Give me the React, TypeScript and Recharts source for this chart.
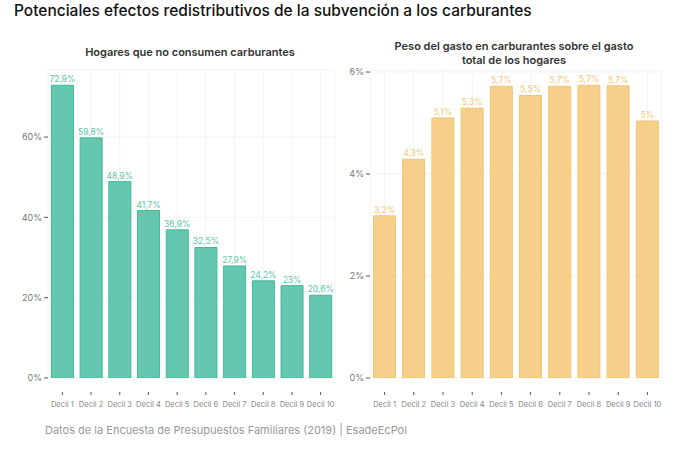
import React from 'react';
import { BarChart, Bar, XAxis, YAxis, CartesianGrid, LabelList } from 'recharts';

// Datos
const deciles = ['Decil 1', 'Decil 2', 'Decil 3', 'Decil 4', 'Decil 5', 'Decil 6', 'Decil 7', 'Decil 8', 'Decil 9', 'Decil 10'];
const sinCarburantes = [72.9, 59.8, 48.9, 41.7, 36.9, 32.5, 27.9, 24.2, 23, 20.6];
const pesoGasto = [3.18, 4.29, 5.1, 5.29, 5.72, 5.54, 5.72, 5.74, 5.73, 5.04];
const ticksIzq = [0, 20, 40, 60];
const ticksDer = [0, 2, 4, 6];

const dataIzq = deciles.map((d, i) => ({ decil: d, valor: sinCarburantes[i] }));
const dataDer = deciles.map((d, i) => ({ decil: d, valor: pesoGasto[i] }));

const FONT = 'Inter, "DejaVu Sans", sans-serif';

const fmt = (v: number) => `${Math.round(v * 10) / 10}%`.replace('.', ',');

const DecilTick = (props: any) => {
    const { x, y, payload } = props;
    return (
        <g>
            <line x1={x} x2={x} y1={y + 6} y2={y + 9} stroke="#555" strokeWidth={1} />
            <text x={x} y={y + 21} textAnchor="middle" fontSize={7.5} fill="#888" fontFamily={FONT}>
                {payload.value}
            </text>
        </g>
    );
};

const Panel = (props: { data: any[]; domain: number[]; ticks: number[]; fill: string; stroke: string; label: string; left: number; width: number; yWidth: number }) => (
    <div style={{ position: 'absolute', left: props.left, top: 0 }}>
        <BarChart
            width={props.width}
            height={454}
            data={props.data}
            margin={{ top: 70, right: 5, bottom: 0, left: 0 }}
            barCategoryGap="12%"
        >
            <CartesianGrid stroke="#f3f3f3" />
            <XAxis dataKey="decil" height={76} axisLine={false} tickLine={false} tick={<DecilTick />} interval={0} />
            <YAxis
                width={props.yWidth}
                domain={props.domain}
                ticks={props.ticks}
                axisLine={false}
                tickSize={4}
                tickLine={{ stroke: '#555' }}
                tick={{ fontSize: 9, fill: '#777', fontFamily: FONT }}
                tickFormatter={(v: number) => `${v}%`}
                allowDataOverflow
            />
            <Bar dataKey="valor" fill={props.fill} stroke={props.stroke} strokeWidth={1} isAnimationActive={false}>
                <LabelList dataKey="valor" position="top" offset={3} formatter={(v: any) => fmt(Number(v))} style={{ fontSize: 8.5, fill: props.label, fontFamily: FONT }} />
            </Bar>
        </BarChart>
    </div>
);

export default function App() {
    return (
        <div style={{ position: 'absolute', left: 0, top: 0, width: 675, height: 454, background: '#fff', fontFamily: FONT, overflow: 'hidden' }}>
            <div style={{ position: 'absolute', left: 14, top: 1, fontSize: 15.5, fontWeight: 500, color: '#111', whiteSpace: 'nowrap' }}>
                Potenciales efectos redistributivos de la subvención a los carburantes
            </div>
            <div style={{ position: 'absolute', left: 40, width: 300, top: 45, textAlign: 'center', fontSize: 11, fontWeight: 600, color: '#333' }}>
                Hogares que no consumen carburantes
            </div>
            <div style={{ position: 'absolute', left: 364, width: 300, top: 39, textAlign: 'center', fontSize: 11, fontWeight: 600, color: '#333', lineHeight: '14px' }}>
                Peso del gasto en carburantes sobre el gasto
                <br />
                total de los hogares
            </div>
            <Panel data={dataIzq} domain={[0, 76.7]} ticks={ticksIzq} fill="#66c7b1" stroke="#3fb996" label="#5cc7a9" left={0} width={340} yWidth={48} />
            <Panel data={dataDer} domain={[0, 6.04]} ticks={ticksDer} fill="#f6cf8a" stroke="#f2c56f" label="#f4c878" left={322} width={345} yWidth={48} />
            <div style={{ position: 'absolute', left: 45, top: 423, fontSize: 11, color: '#999', whiteSpace: 'nowrap' }}>
                Datos de la Encuesta de Presupuestos Familiares (2019) | EsadeEcPol
            </div>
        </div>
    );
}
